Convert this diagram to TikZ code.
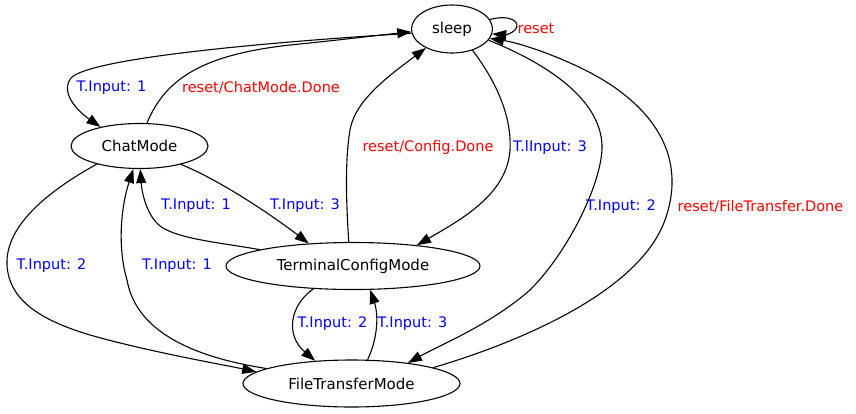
\documentclass[tikz,border=0pt]{standalone}
\usepackage{fontspec}
\setmainfont{DejaVu Sans}
\usetikzlibrary{arrows.meta,shapes.geometric}
\begin{document}
\begin{tikzpicture}[x=1pt,y=-1pt,
  state/.style={draw,ellipse,inner sep=0pt,line width=1.1pt,font=\fontsize{15}{18}\selectfont},
  edge/.style={draw,line width=1.1pt,-{Triangle[length=14pt,width=10pt]}},
  bl/.style={text=blue,inner sep=0pt,font=\fontsize{14.5}{17}\selectfont},
  rd/.style={text=red,inner sep=0pt,font=\fontsize{14.5}{17}\selectfont}]
\useasboundingbox (0,0) rectangle (856,413);
% states
\node[state,minimum width=81pt,minimum height=48pt] (sleep) at (452,29) {sleep};
\node[state,minimum width=137pt,minimum height=45pt] (chat) at (139.5,146) {ChatMode};
\node[state,minimum width=254pt,minimum height=47pt] (term) at (353,266) {TerminalConfigMode};
\node[state,minimum width=217pt,minimum height=47pt] (file) at (351.5,383.5) {FileTransferMode};
% sleep -> ChatMode
\draw[edge] (sleep.186) .. controls (300,40) and (110,55) .. (75,75) .. controls (62,82) and (65,102) .. (chat.154);
% ChatMode -> sleep
\draw[edge] (chat.72) .. controls (165,80) and (200,55) .. (290,45) .. controls (340,40) and (380,35) .. (sleep.184);
% TerminalConfigMode -> sleep
\draw[edge] (term.100) .. controls (346,200) and (345,160) .. (350,130) .. controls (355,100) and (390,75) .. (sleep.216);
% sleep -> TerminalConfigMode
\draw[edge] (sleep.314) .. controls (495,80) and (512,115) .. (510,150) .. controls (507,195) and (460,220) .. (term.18);
% sleep -> FileTransferMode
\draw[edge] (sleep.343) .. controls (550,65) and (600,100) .. (602,145) .. controls (603,180) and (570,250) .. (530,290) .. controls (490,325) and (440,345) .. (file.20);
% FileTransferMode -> sleep
\draw[edge] (file.11) .. controls (510,345) and (638,295) .. (665,220) .. controls (690,150) and (645,100) .. (585,70) .. controls (555,55) and (520,43) .. (sleep.346);
% sleep self loop
\draw[edge] (sleep.14) .. controls (510,14) and (522,22) .. (515,30) .. controls (511,34) and (505,35) .. (sleep.353);
% ChatMode -> TerminalConfigMode
\draw[edge] (chat.336) .. controls (215,178) and (265,210) .. (term.153);
% TerminalConfigMode -> ChatMode
\draw[edge] (term.170) .. controls (215,242) and (182,239) .. (163,228) .. controls (148,219) and (142,195) .. (chat.272);
% ChatMode -> FileTransferMode
\draw[edge] (chat.203) .. controls (50,190) and (5,225) .. (7,265) .. controls (9,300) and (40,320) .. (90,335) .. controls (150,352) and (220,364) .. (file.173);
% FileTransferMode -> ChatMode
\draw[edge] (file.170) .. controls (180,355) and (135,325) .. (127,280) .. controls (118,250) and (120,210) .. (chat.255);
% TerminalConfigMode -> FileTransferMode
\draw[edge] (term.210) .. controls (290,305) and (285,335) .. (file.148);
% FileTransferMode -> TerminalConfigMode
\draw[edge] (file.56) .. controls (375,345) and (380,320) .. (term.306);
% labels
\node[bl] (l1) at (111.5,88) {T.Input: 1};
\node[rd] (l2) at (261,88) {reset/ChatMode.Done};
\node[rd] (l3) at (428,147) {reset/Config.Done};
\node[bl] (l4) at (550,147) {T.lInput: 3};
\node[bl] (l5) at (621,207) {T.Input: 2};
\node[rd] (l6) at (760.5,207) {reset/FileTransfer.Done};
\node[rd] (l7) at (536,29) {reset};
\node[bl] (l8) at (196,206) {T.Input: 1};
\node[bl] (l9) at (305,206) {T.Input: 3};
\node[bl] (l10) at (51.5,266) {T.Input: 2};
\node[bl] (l11) at (177,266) {T.Input: 1};
\node[bl] (l12) at (332.5,324) {T.Input: 2};
\node[bl] (l13) at (412.5,324) {T.Input: 3};
\end{tikzpicture}
\end{document}
